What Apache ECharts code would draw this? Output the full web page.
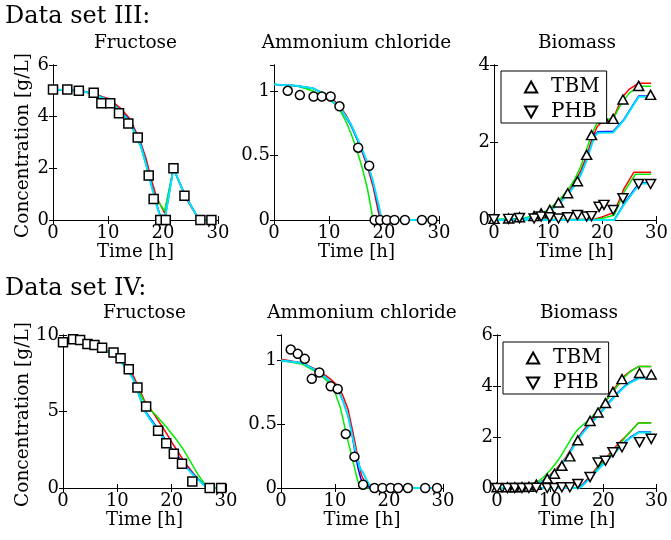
<!DOCTYPE html>
<html>
<head>
<meta charset="utf-8">
<script src="https://cdn.jsdelivr.net/npm/echarts/dist/echarts.min.js"></script>
<style>
html, body { margin: 0; padding: 0; background: #fff; }
#chart { width: 671px; height: 540px; }
</style>
</head>
<body>
<div id="chart"></div>
<script>
const FONT = 'DejaVu Serif';
const modelColors = ['#ff0000', '#00ee00', '#0000ff', '#00e5ff'];

// ---- Data set III ----
const fru3Time = [0, 2.6, 4.7, 7.4, 8.8, 10.4, 12.0, 13.7, 15.4, 17.4, 18.3, 19.5, 20.5, 21.9, 23.9, 26.8, 28.8];
const fru3Meas = [5.05, 5.05, 5.0, 4.93, 4.52, 4.52, 4.13, 3.74, 3.19, 1.72, 0.81, 0, 0, 2.0, 0.94, 0, 0];
const fru3Red = [[0, 5.05], [5, 5.0], [7, 4.92], [9, 4.77], [10, 4.7], [12.1, 4.36], [13.9, 3.94], [15.8, 3.1], [17, 2.32], [17.9, 1.55], [18.8, 0.9], [20.3, 0.26], [21.9, 2.0], [24, 0.9], [26.6, 0], [29, 0]];
const fru3Green = [[0, 5.05], [5, 5.0], [7, 4.9], [9, 4.74], [10, 4.65], [12, 4.25], [14, 3.75], [16, 2.8], [17, 2.05], [18, 1.25], [19, 0.75], [20.3, 0.35], [21.9, 2.0], [24, 0.95], [26.6, 0], [29, 0]];
const fru3Blue = [[0, 5.05], [5, 5.0], [7, 4.9], [9, 4.74], [10, 4.66], [12, 4.3], [14, 3.85], [16, 2.9], [17, 2.15], [18, 1.3], [19, 0.5], [19.6, 0.1], [20.3, 0], [21.9, 2.0], [24, 0.97], [26.6, 0], [29, 0]];
const fru3Cyan = [[0, 5.05], [5, 5.0], [7, 4.9], [9, 4.73], [10, 4.65], [12, 4.28], [14, 3.8], [16, 2.85], [17, 2.1], [18, 1.25], [19, 0.45], [19.7, 0], [20.3, 0], [21.9, 2.0], [24, 0.95], [26.6, 0], [29, 0]];

const amm3Time = [2.5, 4.7, 7.2, 8.7, 10.3, 11.9, 15.3, 17.3, 18.3, 19.3, 20.5, 21.9, 23.8, 26.9, 28.8];
const amm3Meas = [1.0, 0.967, 0.956, 0.956, 0.956, 0.88, 0.56, 0.42, 0, 0, 0, 0, 0, 0, 0];
const amm3Red = [[0, 1.05], [4, 1.04], [7, 1.02], [9, 0.98], [11, 0.92], [12, 0.88], [13, 0.82], [14, 0.74], [15, 0.64], [16, 0.53], [17, 0.41], [18, 0.26], [18.8, 0.1], [19.3, 0], [29, 0]];
const amm3Green = [[0, 1.05], [4, 1.04], [7, 1.0], [9, 0.96], [11, 0.9], [12, 0.85], [13, 0.77], [14, 0.67], [15, 0.55], [16, 0.41], [17, 0.24], [17.6, 0.1], [18, 0], [29, 0]];
const amm3Blue = [[0, 1.05], [4, 1.04], [7, 1.02], [9, 0.98], [12, 0.87], [14, 0.73], [16, 0.54], [17, 0.43], [18, 0.29], [19, 0.1], [19.5, 0], [29, 0]];
const amm3Cyan = [[0, 1.05], [4, 1.04], [7, 1.02], [9, 0.98], [12, 0.87], [14, 0.74], [16, 0.55], [17, 0.44], [18, 0.3], [19, 0.12], [19.6, 0], [29, 0]];

const bio3Time = [0, 2.7, 4.7, 7.4, 8.7, 10.3, 11.9, 13.6, 15.4, 17.1, 18.0, 19.4, 20.3, 22.0, 23.8, 26.7, 28.9];
const bio3TBM = [0.03, 0.04, 0.07, 0.1, 0.17, 0.26, 0.45, 0.69, 1.0, 1.68, 2.19, 2.68, 2.62, 2.61, 3.11, 3.46, 3.23];
const bio3PHB = [0.02, 0.03, 0.05, 0.04, 0.09, 0.07, 0.04, 0.07, 0.13, 0.09, 0.1, 0.34, 0.39, 0.26, 0.56, 0.93, 0.93];
const bio3TBMRed = [[0, 0], [5, 0.03], [8, 0.1], [10, 0.22], [11, 0.32], [12, 0.45], [13, 0.6], [14, 0.78], [15, 1.0], [16, 1.27], [17, 1.62], [18, 2.05], [19, 2.4], [20, 2.55], [22, 2.62], [23, 2.95], [24, 3.22], [25, 3.38], [26.7, 3.53], [29, 3.53]];
const bio3TBMGreen = [[0, 0.02], [5, 0.04], [8, 0.12], [10, 0.26], [12, 0.5], [14, 0.85], [15, 1.08], [16, 1.38], [17, 1.78], [18, 2.2], [19, 2.5], [20, 2.6], [22, 2.6], [23, 2.88], [24, 3.1], [25, 3.28], [26.7, 3.45], [29, 3.45]];
const bio3TBMBlue = [[0, 0], [5, 0.02], [8, 0.09], [10, 0.2], [12, 0.42], [14, 0.73], [15, 0.93], [16, 1.18], [17, 1.52], [18, 1.95], [18.6, 2.2], [19.2, 2.28], [22, 2.29], [24, 2.6], [26.7, 3.2], [29, 3.2]];
const bio3TBMCyan = [[0, 0], [5, 0.02], [8, 0.09], [10, 0.2], [12, 0.42], [14, 0.72], [15, 0.92], [16, 1.16], [17, 1.5], [18, 1.93], [18.6, 2.17], [19.2, 2.25], [22, 2.26], [24, 2.58], [26.7, 3.18], [29, 3.18]];
const bio3PHBRed = [[0, 0], [18.5, 0.02], [20, 0.08], [22.2, 0.2], [24, 0.81], [25.8, 1.23], [29, 1.23]];
const bio3PHBGreen = [[0, 0], [19, 0.02], [20.5, 0.06], [22.2, 0.13], [24, 0.72], [26.1, 1.18], [29, 1.18]];
const bio3PHBBlue = [[0, 0], [22.2, 0], [24, 0.42], [26.8, 0.96], [29, 0.96]];
const bio3PHBCyan = [[0, 0], [22.2, 0], [24, 0.4], [26.9, 0.94], [29, 0.94]];

// ---- Data set IV ----
const fru4Time = [0, 1.86, 3.15, 4.5, 5.8, 7.2, 9.3, 10.6, 12.1, 13.7, 15.3, 17.5, 19.0, 20.4, 21.9, 23.8, 27.0, 29.1];
const fru4Meas = [9.52, 9.72, 9.67, 9.41, 9.35, 9.17, 8.85, 8.48, 7.76, 6.57, 5.33, 3.74, 2.93, 2.24, 1.59, 0.43, 0, 0];
const fru4Red = [[0, 9.65], [2, 9.62], [4, 9.5], [6, 9.3], [8, 9.0], [10, 8.6], [11, 8.3], [12, 7.9], [13, 7.3], [14, 6.5], [15, 5.7], [16, 5.2], [17, 4.7], [18, 4.15], [19, 3.6], [20, 3.0], [21, 2.45], [22, 1.9], [23, 1.4], [24, 0.95], [25, 0.55], [26.5, 0], [29, 0]];
const fru4Green = [[0, 9.63], [2, 9.6], [4, 9.48], [6, 9.28], [8, 8.97], [10, 8.55], [11, 8.2], [12, 7.75], [13, 7.1], [14, 6.3], [15, 5.6], [15.3, 5.4], [16, 5.15], [17, 4.8], [18, 4.4], [19, 4.0], [20, 3.55], [21, 3.1], [22, 2.6], [23, 2.0], [24, 1.4], [25, 0.8], [26.5, 0.05], [27, 0], [29, 0]];
const fru4Blue = [[0, 9.63], [2, 9.6], [4, 9.48], [6, 9.28], [8, 8.95], [10, 8.55], [12, 7.7], [13, 7.1], [14, 6.1], [15, 5.1], [16, 4.6], [18, 3.6], [20, 2.6], [22, 1.7], [24, 0.9], [26.5, 0], [29, 0]];
const fru4Cyan = [[0, 9.63], [2, 9.6], [4, 9.48], [6, 9.28], [8, 8.95], [10, 8.52], [12, 7.68], [13, 7.05], [14, 6.05], [15, 5.05], [16, 4.5], [18, 3.5], [20, 2.5], [22, 1.6], [24, 0.85], [26.5, 0], [29, 0]];

const amm4Time = [1.8, 3.1, 4.4, 5.7, 7.1, 9.2, 10.5, 12.0, 13.6, 15.2, 17.3, 18.8, 20.3, 21.7, 23.5, 26.7, 28.9];
const amm4Meas = [1.086, 1.052, 1.013, 0.856, 0.906, 0.798, 0.777, 0.424, 0.246, 0.026, 0, 0, 0, 0, 0, 0, 0];
const amm4Red = [[0, 1.01], [4, 0.98], [7, 0.92], [9, 0.86], [10.6, 0.8], [11.5, 0.72], [12.4, 0.62], [13, 0.5], [13.7, 0.36], [14.3, 0.22], [14.9, 0.1], [15.5, 0.05], [16.8, 0], [29, 0]];
const amm4Green = [[0, 1.0], [4, 0.97], [7, 0.9], [9, 0.82], [10, 0.75], [11, 0.63], [11.8, 0.48], [12.5, 0.35], [13, 0.27], [13.5, 0.18], [14, 0.09], [14.3, 0.045], [14.6, 0], [29, 0]];
const amm4Blue = [[0, 1.0], [4, 0.98], [7, 0.91], [9, 0.84], [10.6, 0.77], [11.5, 0.68], [12.4, 0.57], [13, 0.46], [13.7, 0.28], [14.3, 0.15], [14.8, 0.07], [15.5, 0.03], [16.5, 0], [29, 0]];
const amm4Cyan = [[0, 1.0], [4, 0.98], [7, 0.91], [9, 0.84], [10.6, 0.77], [11.5, 0.68], [12.4, 0.57], [13, 0.45], [14, 0.25], [14.6, 0.16], [15.2, 0.12], [16, 0.05], [16.8, 0], [29, 0]];

const bio4Time = [0, 1.95, 3.35, 4.7, 6.0, 7.4, 9.45, 10.8, 12.2, 13.7, 15.2, 17.5, 19.0, 20.4, 21.8, 23.5, 26.8, 29.0];
const bio4TBM = [0.03, 0.03, 0.03, 0.04, 0.05, 0.13, 0.37, 0.56, 0.87, 1.24, 1.87, 2.63, 2.96, 3.33, 3.77, 4.27, 4.51, 4.45];
const bio4PHB = [0, 0, 0, 0, 0, 0.01, 0, 0, 0.03, 0.03, 0.16, 0.43, 1.0, 1.07, 1.4, 1.6, 1.8, 1.93];
const bio4TBMRed = [[0, 0], [4, 0.03], [6, 0.07], [8, 0.22], [9, 0.35], [10, 0.52], [11, 0.72], [12, 0.95], [13, 1.22], [14, 1.55], [15, 1.9], [16, 2.2], [17, 2.45], [18, 2.72], [19, 3.0], [20, 3.28], [21, 3.58], [22, 3.88], [23, 4.15], [24, 4.4], [25, 4.57], [26.6, 4.76], [29, 4.76]];
const bio4TBMGreen = [[0, 0], [4, 0.04], [6, 0.1], [8, 0.3], [9, 0.47], [10, 0.7], [11, 0.95], [12, 1.25], [13, 1.6], [14, 1.95], [15, 2.25], [15.5, 2.35], [16, 2.45], [17, 2.62], [18, 2.82], [19, 3.05], [20, 3.3], [21, 3.55], [22, 3.82], [23, 4.1], [24, 4.35], [25, 4.55], [26.6, 4.76], [29, 4.76]];
const bio4TBMBlue = [[0, 0], [4, 0.02], [6, 0.06], [8, 0.2], [9, 0.32], [10, 0.48], [11, 0.67], [12, 0.9], [13, 1.18], [14, 1.5], [15, 1.85], [16, 2.15], [17, 2.4], [18, 2.63], [19, 2.87], [20, 3.1], [21, 3.35], [22, 3.58], [23, 3.8], [24, 4.0], [25, 4.15], [26.6, 4.33], [29, 4.33]];
const bio4TBMCyan = [[0, 0], [4, 0.02], [6, 0.06], [8, 0.2], [9, 0.32], [10, 0.47], [11, 0.66], [12, 0.89], [13, 1.17], [14, 1.48], [15, 1.83], [16, 2.12], [17, 2.37], [18, 2.6], [19, 2.84], [20, 3.07], [21, 3.32], [22, 3.55], [23, 3.77], [24, 3.97], [25, 4.12], [26.7, 4.3], [29, 4.3]];
const bio4PHBRed = [[0, 0], [15.3, 0.02], [16, 0.12], [17, 0.35], [18, 0.6], [19, 0.85], [20, 1.08], [21, 1.3], [22, 1.55], [23, 1.78], [24, 1.98], [25, 2.2], [26.6, 2.56], [29, 2.56]];
const bio4PHBGreen = [[0, 0], [15.5, 0], [16, 0.08], [17, 0.3], [18, 0.55], [19, 0.8], [20, 1.02], [21, 1.25], [22, 1.45], [23, 1.7], [24, 1.95], [25, 2.2], [26.6, 2.55], [29, 2.55]];
const bio4PHBBlue = [[0, 0], [15.3, 0], [16, 0.1], [17, 0.3], [18, 0.52], [19, 0.74], [20, 0.96], [21, 1.18], [22, 1.38], [23, 1.6], [24, 1.8], [25, 1.98], [26.7, 2.2], [29, 2.2]];
const bio4PHBCyan = [[0, 0], [15.3, 0], [16, 0.08], [17, 0.28], [18, 0.5], [19, 0.72], [20, 0.94], [21, 1.15], [22, 1.35], [23, 1.57], [24, 1.77], [25, 1.95], [26.7, 2.18], [29, 2.18]];

// layout of the six panels
const panels = [
  { left: 53, top: 65, width: 165, height: 155, ymax: 6, yint: 2, title: 'Fructose', ylab: true },
  { left: 274, top: 65, width: 165, height: 155, ymax: 1.2, yint: 0.5, title: 'Ammonium chloride' },
  { left: 494, top: 65, width: 166, height: 155, ymax: 4, yint: 2, title: 'Biomass' },
  { left: 63, top: 335, width: 163, height: 153, ymax: 10, yint: 5, title: 'Fructose', ylab: true },
  { left: 281, top: 335, width: 162, height: 153, ymax: 1.2, yint: 0.5, title: 'Ammonium chloride' },
  { left: 497, top: 335, width: 164, height: 153, ymax: 6, yint: 2, title: 'Biomass' }
];

const black = { color: '#000', width: 1 };
const lbl = { fontFamily: FONT, fontSize: 18, color: '#000' };

let grid = [], xAxis = [], yAxis = [], graphic = [];

panels.forEach((p, i) => {
  grid.push({ left: p.left, top: p.top, width: p.width, height: p.height, show: false });
  xAxis.push({
    gridIndex: i, type: 'value', min: 0, max: 30, interval: 10, position: 'bottom',
    name: 'Time [h]', nameLocation: 'middle', nameGap: 21, nameTextStyle: lbl,
    axisLine: { lineStyle: black }, axisTick: { inside: true, length: 4, lineStyle: black },
    axisLabel: Object.assign({ margin: 4 }, lbl), splitLine: { show: false }
  });
  xAxis.push({
    gridIndex: i, type: 'value', min: 0, max: 30, interval: 10, position: 'top',
    axisLine: { lineStyle: black }, axisTick: { inside: true, length: 4, lineStyle: black },
    axisLabel: { show: false }, splitLine: { show: false }
  });
  yAxis.push({
    gridIndex: i, type: 'value', min: 0, max: p.ymax, interval: p.yint, position: 'left',
    axisLine: { show: true, lineStyle: black }, axisTick: { show: true, inside: true, length: 4, lineStyle: black },
    axisLabel: Object.assign({ margin: 4, showMaxLabel: p.ymax % p.yint === 0 }, lbl), splitLine: { show: false }
  });
  yAxis.push({
    gridIndex: i, type: 'value', min: 0, max: p.ymax, interval: p.yint, position: 'right',
    axisLine: { show: true, lineStyle: black }, axisTick: { show: true, inside: true, length: 4, lineStyle: black },
    axisLabel: { show: false }, splitLine: { show: false }
  });
  graphic.push({
    type: 'text', x: p.left + p.width / 2, y: p.top - 22, z: 10,
    style: { text: p.title, font: '18.5px "DejaVu Serif"', fill: '#000', textAlign: 'center', textVerticalAlign: 'middle' }
  });
  if (p.ylab) {
    graphic.push({
      type: 'text', x: 23, y: p.top + p.height / 2 + 3, rotation: Math.PI / 2, z: 10,
      style: { text: 'Concentration [g/L]', font: '18.5px "DejaVu Serif"', fill: '#000', textAlign: 'center', textVerticalAlign: 'middle' }
    });
  }
});

graphic.push({ type: 'text', x: 5, y: 17, z: 10, style: { text: 'Data set III:', font: '24px "DejaVu Serif"', fill: '#000', textAlign: 'left', textVerticalAlign: 'middle' } });
graphic.push({ type: 'text', x: 5, y: 289, z: 10, style: { text: 'Data set IV:', font: '24px "DejaVu Serif"', fill: '#000', textAlign: 'left', textVerticalAlign: 'middle' } });

const upTri = 'path://M5,0L10,9L0,9Z';
const downTri = 'path://M0,0L10,0L5,9Z';
const markStyle = { color: '#fff', borderColor: '#000', borderWidth: 1.5, opacity: 1 };

let series = [];

function addModels(i, curves) {
  curves.forEach((c, k) => {
    series.push({
      type: 'line', xAxisIndex: i * 2, yAxisIndex: i * 2, data: c,
      symbol: 'none', showSymbol: false, clip: false, silent: true, z: 2,
      lineStyle: { color: modelColors[k], width: k === 3 ? 2 : 1.5 },
      itemStyle: { color: modelColors[k] }
    });
  });
}

function addMeas(i, name, times, vals, symbol, size) {
  series.push({
    type: 'scatter', name: name, xAxisIndex: i * 2, yAxisIndex: i * 2,
    data: times.map((t, j) => [t, vals[j]]),
    symbol: symbol, symbolSize: size, clip: false, z: 3,
    itemStyle: markStyle, emphasis: { disabled: true }
  });
}

addModels(0, [fru3Red, fru3Green, fru3Blue, fru3Cyan]);
addMeas(0, 'fru3', fru3Time, fru3Meas, 'rect', 9);
addModels(1, [amm3Red, amm3Green, amm3Blue, amm3Cyan]);
addMeas(1, 'amm3', amm3Time, amm3Meas, 'circle', 9);
addModels(2, [bio3TBMRed, bio3TBMGreen, bio3TBMBlue, bio3TBMCyan]);
addModels(2, [bio3PHBRed, bio3PHBGreen, bio3PHBBlue, bio3PHBCyan]);
addMeas(2, 'TBM', bio3Time, bio3TBM, upTri, [10, 9]);
addMeas(2, 'PHB', bio3Time, bio3PHB, downTri, [10, 9]);

addModels(3, [fru4Red, fru4Green, fru4Blue, fru4Cyan]);
addMeas(3, 'fru4', fru4Time, fru4Meas, 'rect', 9);
addModels(4, [amm4Red, amm4Green, amm4Blue, amm4Cyan]);
addMeas(4, 'amm4', amm4Time, amm4Meas, 'circle', 9);
addModels(5, [bio4TBMRed, bio4TBMGreen, bio4TBMBlue, bio4TBMCyan]);
addModels(5, [bio4PHBRed, bio4PHBGreen, bio4PHBBlue, bio4PHBCyan]);
addMeas(5, 'TBM', bio4Time, bio4TBM, upTri, [10, 9]);
addMeas(5, 'PHB', bio4Time, bio4PHB, downTri, [10, 9]);

function legendAt(left, top) {
  return {
    data: ['TBM', 'PHB'], left: left, top: top, orient: 'vertical',
    padding: [6, 7, 1, 23], itemWidth: 30, itemHeight: 11, itemGap: 5,
    backgroundColor: '#fff', borderColor: '#000', borderWidth: 1, borderRadius: 0,
    selectedMode: false, textStyle: { fontFamily: FONT, fontSize: 20, color: '#000' }, z: 5
  };
}

const chart = echarts.init(document.getElementById('chart'));
chart.setOption({
  animation: false,
  backgroundColor: '#fff',
  grid: grid,
  xAxis: xAxis,
  yAxis: yAxis,
  legend: [legendAt(501, 71), legendAt(503, 342)],
  graphic: graphic,
  series: series
});
</script>
</body>
</html>
